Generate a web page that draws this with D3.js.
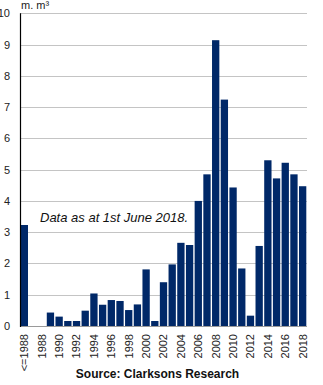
<!DOCTYPE html>
<html>
<head>
<meta charset="utf-8">
<script src="https://cdn.jsdelivr.net/npm/d3@7/dist/d3.min.js"></script>
<style>
  html, body { margin: 0; padding: 0; background: #fff; }
  svg { display: block; font-family: "Liberation Sans", Arial, sans-serif; }
</style>
</head>
<body>
<svg id="chart" width="323" height="385"></svg>
<script>
// Categories (first two: "<=1988" bucket and an unlabeled slot)
const categories = ["<=1988", "1987", "1988", "1989", "1990", "1991", "1992", "1993", "1994", "1995",
  "1996", "1997", "1998", "1999", "2000", "2001", "2002", "2003", "2004", "2005",
  "2006", "2007", "2008", "2009", "2010", "2011", "2012", "2013", "2014", "2015",
  "2016", "2017", "2018"];
// Values in million m3
const values = [3.23, 0, 0, 0.43, 0.30, 0.16, 0.16, 0.49, 1.04, 0.68,
  0.83, 0.80, 0.51, 0.69, 1.81, 0.16, 1.40, 1.97, 2.66, 2.59,
  4.00, 4.85, 9.14, 7.24, 4.43, 1.84, 0.33, 2.56, 5.30, 4.72,
  5.22, 4.85, 4.47];
// Tick labels shown on the x axis (every other category)
const xTickLabels = ["<=1988", "1988", "1990", "1992", "1994", "1996", "1998", "2000", "2002",
  "2004", "2006", "2008", "2010", "2012", "2014", "2016", "2018"];
const yTicks = [0, 1, 2, 3, 4, 5, 6, 7, 8, 9, 10];
const unitLabel = "m. m\u00B3";
const noteText = "Data as at 1st June 2018.";
const sourceText = "Source: Clarksons Research";

const svg = d3.select("#chart");
const plot = { left: 20, right: 307, top: 13.3, bottom: 326 };

const x = d3.scaleBand()
  .domain(categories)
  .range([plot.left, plot.right])
  .paddingInner(0.16)
  .paddingOuter(0.08);

const y = d3.scaleLinear().domain([0, 10]).range([plot.bottom, plot.top]);

// Gridlines
svg.append("g")
  .selectAll("line")
  .data(yTicks.filter(d => d > 0))
  .join("line")
  .attr("x1", plot.left)
  .attr("x2", plot.right)
  .attr("y1", d => Math.round(y(d)) + 0.5)
  .attr("y2", d => Math.round(y(d)) + 0.5)
  .attr("stroke", "#c4c4c4")
  .attr("stroke-width", 1);

// Y axis labels
const yAxis = d3.axisLeft(y).tickValues(yTicks).tickSize(0).tickPadding(0).tickFormat(d3.format("d"));
const gy = svg.append("g").attr("transform", `translate(${plot.left - 10},0)`).call(yAxis);
gy.select(".domain").remove();
gy.selectAll("text")
  .attr("font-size", 11)
  .attr("fill", "#222")
  .attr("font-family", "Liberation Sans, Arial, sans-serif");

// Bars
svg.append("g")
  .selectAll("rect")
  .data(categories.map((c, i) => ({ c, v: values[i] })))
  .join("rect")
  .attr("x", d => x(d.c))
  .attr("width", x.bandwidth())
  .attr("y", d => y(d.v))
  .attr("height", d => y(0) - y(d.v))
  .attr("fill", "#002868");

// Baseline
svg.append("line")
  .attr("x1", plot.left).attr("x2", plot.right)
  .attr("y1", Math.round(y(0)) + 0.5).attr("y2", Math.round(y(0)) + 0.5)
  .attr("stroke", "#9a9a9a").attr("stroke-width", 1);

// Left axis line
svg.append("line")
  .attr("x1", plot.left + 0.5).attr("x2", plot.left + 0.5)
  .attr("y1", y(10)).attr("y2", y(0) + 1)
  .attr("stroke", "#000").attr("stroke-width", 1.2);

// X axis labels (every other category)
const labelByCat = {};
categories.forEach((c, i) => { if (i % 2 === 0) labelByCat[c] = xTickLabels[i / 2]; });
const xAxis = d3.axisBottom(x)
  .tickValues(categories.filter((c, i) => i % 2 === 0))
  .tickSize(0)
  .tickFormat(c => labelByCat[c]);
const gx = svg.append("g").attr("transform", `translate(0,${plot.bottom})`).call(xAxis);
gx.select(".domain").remove();
gx.selectAll("text")
  .attr("font-size", 11)
  .attr("fill", "#222")
  .attr("font-family", "Liberation Sans, Arial, sans-serif")
  .attr("text-anchor", "end")
  .attr("transform", "rotate(-90)")
  .attr("x", -8)
  .attr("y", 0)
  .attr("dy", "0.35em");

// Unit label
svg.append("text")
  .attr("x", 21).attr("y", 9)
  .attr("font-size", 11).attr("fill", "#222")
  .text(unitLabel);

// Note
svg.append("text")
  .attr("x", 40).attr("y", 221.5)
  .attr("font-size", 13).attr("font-style", "italic").attr("fill", "#111")
  .text(noteText);

// Source
svg.append("text")
  .attr("x", 157.5).attr("y", 377.5)
  .attr("text-anchor", "middle")
  .attr("font-size", 12).attr("font-weight", "bold").attr("fill", "#111")
  .text(sourceText);
</script>
</body>
</html>
